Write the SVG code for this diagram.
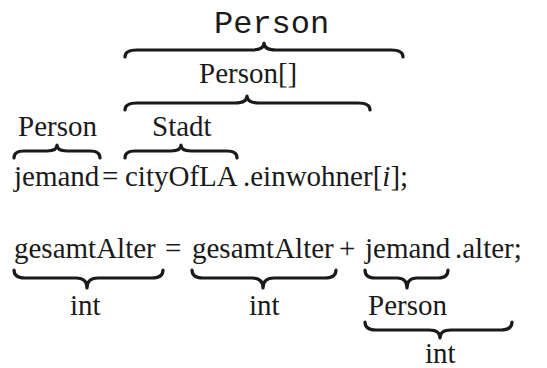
<svg xmlns="http://www.w3.org/2000/svg" width="547" height="368" viewBox="0 0 547 368">
<style>
  .t { font-family: "Liberation Serif", "Times New Roman", serif; font-size: 29px; fill: #1a1a1a; }
  .m { font-family: "Liberation Mono", "Courier New", monospace; font-size: 32px; fill: #1a1a1a; }
  .b { fill: none; stroke: #1a1a1a; stroke-width: 3.2; stroke-linecap: round; stroke-linejoin: round; }
</style>
<rect width="547" height="368" fill="#ffffff"/>
<g id="braces">
  <path class="b" d="M125,57 Q125,50 137,50 L252,50 Q264,50 264,43 Q264,50 276,50 L391,50 Q403,50 403,57"/>
  <path class="b" d="M125,110 Q125,103 137,103 L235,103 Q247,103 247,96 Q247,103 259,103 L358,103 Q370,103 370,110"/>
  <path class="b" d="M14,158 Q14,151 24,151 L47,151 Q57,151 57,145 Q57,151 67,151 L90,151 Q100,151 100,158"/>
  <path class="b" d="M125,158 Q125,151 135,151 L171,151 Q181,151 181,145 Q181,151 191,151 L227,151 Q237,151 237,158"/>
  <path class="b" d="M14,270 Q14,278 25,278 L76,278 Q87,278 87,288 Q87,278 98,278 L152,278 Q163,278 163,270"/>
  <path class="b" d="M192,270 Q192,278 203,278 L252,278 Q263,278 263,288 Q263,278 274,278 L325,278 Q336,278 336,270"/>
  <path class="b" d="M365,270 Q365,278 375,278 L397,278 Q407,278 407,288 Q407,278 417,278 L438,278 Q448,278 448,270"/>
  <path class="b" d="M365,322 Q365,330 376,330 L429,330 Q440,330 440,338 Q440,330 451,330 L501,330 Q512,330 512,322"/>
</g>
<g id="labels">
  <text class="m" x="214" y="33">Person</text>
  <text class="t" x="199" y="83">Person[]</text>
  <text class="t" x="18" y="136">Person</text>
  <text class="t" x="152" y="136">Stadt</text>
  <text class="t" x="70" y="315">int</text>
  <text class="t" x="249" y="315">int</text>
  <text class="t" x="368" y="315">Person</text>
  <text class="t" x="425" y="363">int</text>
</g>
<g id="line1">
  <text class="t" x="14" y="186">jemand</text>
  <text class="t" x="102" y="186">=</text>
  <text class="t" x="125" y="186">cityOfLA</text>
  <text class="t" x="243" y="186">.einwohner[<tspan font-style="italic">i</tspan>];</text>
</g>
<g id="line2">
  <text class="t" x="14" y="258">gesamtAlter</text>
  <text class="t" x="165" y="258">=</text>
  <text class="t" x="192" y="258">gesamtAlter</text>
  <text class="t" x="339" y="258">+</text>
  <text class="t" x="365" y="258">jemand</text>
  <text class="t" x="455" y="258">.alter;</text>
</g>
</svg>
